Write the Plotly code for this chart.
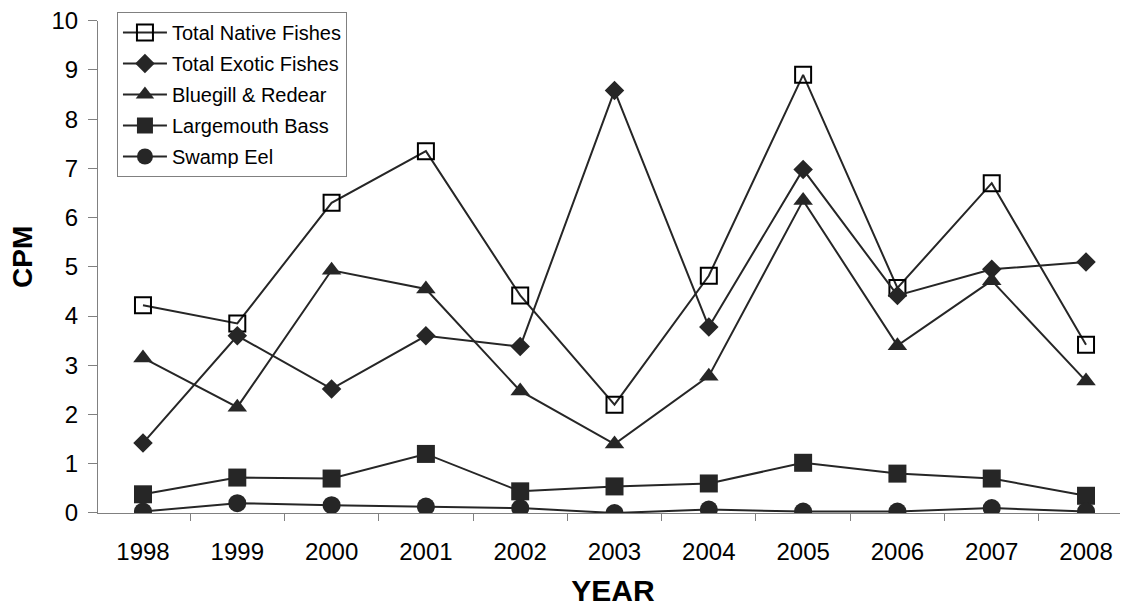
import plotly.graph_objects as go

years = ["1998", "1999", "2000", "2001", "2002", "2003", "2004", "2005", "2006", "2007", "2008"]
total_native = [4.22, 3.85, 6.30, 7.35, 4.42, 2.20, 4.82, 8.90, 4.57, 6.70, 3.42]
total_exotic = [1.42, 3.60, 2.52, 3.60, 3.38, 8.58, 3.78, 6.98, 4.42, 4.95, 5.10]
bluegill_redear = [3.15, 2.15, 4.93, 4.55, 2.48, 1.40, 2.78, 6.35, 3.40, 4.72, 2.68]
largemouth_bass = [0.38, 0.72, 0.70, 1.20, 0.44, 0.54, 0.60, 1.02, 0.80, 0.70, 0.35]
swamp_eel = [0.03, 0.20, 0.16, 0.13, 0.10, 0.00, 0.07, 0.03, 0.03, 0.10, 0.03]

ink = "#262626"
font_family = "Liberation Sans, Arial, sans-serif"

series = [
    ("Total Native Fishes", total_native, dict(symbol="square-open", size=16, color="black", line=dict(width=2, color="black"))),
    ("Total Exotic Fishes", total_exotic, dict(symbol="diamond", size=15, color=ink)),
    ("Bluegill & Redear", bluegill_redear, dict(symbol="triangle-up", size=17, color=ink)),
    ("Largemouth Bass", largemouth_bass, dict(symbol="square", size=18, color=ink)),
    ("Swamp Eel", swamp_eel, dict(symbol="circle", size=18, color=ink)),
]

fig = go.Figure()
for i, (name, vals, marker) in enumerate(series):
    fig.add_trace(go.Scatter(
        x=years, y=vals, name=name, mode="lines+markers",
        line=dict(color=ink, width=2), marker=marker,
        legendgroup="g%d" % i,
    ))

# The page body has an 8px default margin, so the figure is sized/offset to fit the window.
fig.update_layout(
    width=1120, height=599,
    margin=dict(l=90, r=0, t=4, b=94),
    paper_bgcolor="white", plot_bgcolor="white",
    font=dict(family=font_family, color="black"),
    showlegend=True,
    legend=dict(
        x=0.0184, y=1.0, xanchor="left", yanchor="top",
        bgcolor="white", bordercolor="#808080", borderwidth=1,
        font=dict(size=20, family=font_family, color="black"),
        traceorder="grouped", tracegroupgap=2, itemwidth=44,
    ),
    xaxis=dict(
        type="category", range=[-0.477, 10.445],
        tickson="boundaries", ticks="outside", ticklen=7, tickcolor="#808080",
        showline=True, linecolor="#808080", linewidth=1,
        showgrid=False, zeroline=False, automargin=False,
        ticklabelstandoff=17, ticklabeloverflow="allow",
        tickfont=dict(size=24, family=font_family, color="black"),
        title=dict(text="<b>YEAR</b>", font=dict(size=30, family=font_family, color="black"), standoff=27),
    ),
    yaxis=dict(
        domain=[0, 0.9826],
        range=[0, 10], dtick=1, ticks="outside", ticklen=9, tickcolor="#808080",
        showline=True, linecolor="#808080", linewidth=1,
        showgrid=False, zeroline=False, automargin=False,
        ticklabelstandoff=5, ticklabeloverflow="allow",
        tickfont=dict(size=24, family=font_family, color="black"),
    ),
    annotations=[dict(
        text="<b>CPM</b>", textangle=-90, showarrow=False,
        xref="paper", yref="paper", x=-0.0728, y=0.511,
        xanchor="center", yanchor="middle",
        font=dict(size=28, family=font_family, color="black"),
    )],
)

fig.write_html("out.html")
